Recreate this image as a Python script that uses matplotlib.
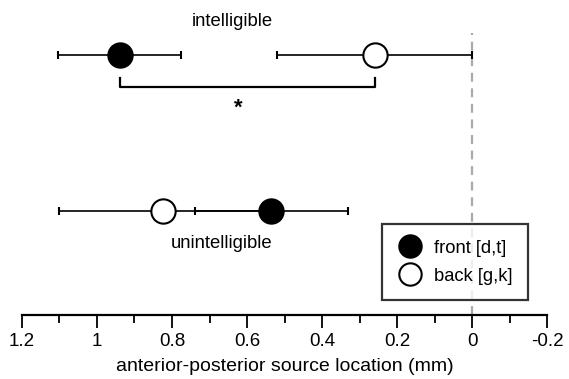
import matplotlib.pyplot as plt
from matplotlib.ticker import MultipleLocator

plt.rcParams['font.family'] = ['Liberation Sans', 'DejaVu Sans']

# conditions and source locations (mm), symmetric error bars
conditions = ["intelligible", "unintelligible"]
front_loc = [0.94, 0.535]
front_err = [0.165, 0.205]
back_loc = [0.26, 0.825]
back_err = [0.26, 0.275]

row_y = [55, 211]  # vertical positions of the two rows

fig = plt.figure(figsize=(5.69, 3.79), dpi=100)
ax = fig.add_axes([22 / 569, 64 / 379, 525 / 569, 315 / 379])

ax.axvline(0, ymin=0, ymax=(315 - 33) / 315, color='#aaaaaa', ls=(0, (4, 3)), lw=1.6, zorder=0)

ax.errorbar(back_loc, row_y, xerr=back_err, fmt='o', ms=17.5, mfc='white', mec='black',
            mew=1.5, ecolor='black', elinewidth=1.2, capsize=3, capthick=1.2,
            label='back [g,k]', zorder=3)
ax.errorbar(front_loc, row_y, xerr=front_err, fmt='o', ms=17.5, mfc='black', mec='black',
            mew=1.5, ecolor='black', elinewidth=1.2, capsize=3, capthick=1.2,
            label='front [d,t]', zorder=4)

# significance bracket
ax.plot([front_loc[0], front_loc[0], back_loc[0], back_loc[0]], [78, 87, 87, 78],
        color='black', lw=1.6)
ax.text(0.624, 108, '*', ha='center', va='center', fontsize=16, fontweight='bold')

ax.text(0.64, 22, conditions[0], ha='center', va='center', fontsize=13.3)
ax.text(0.669, 244, conditions[1], ha='center', va='center', fontsize=13.3)

ax.set_xlim(1.2, -0.2)
ax.set_ylim(315, 0)
ax.xaxis.set_minor_locator(MultipleLocator(0.1))
ax.set_xticks([1.2, 1, 0.8, 0.6, 0.4, 0.2, 0, -0.2])
ax.set_xticklabels(['1.2', '1', '0.8', '0.6', '0.4', '0.2', '0', '-0.2'])
ax.tick_params(axis='x', which='major', length=9, width=1.3, labelsize=13.5, pad=4)
ax.tick_params(axis='x', which='minor', length=6, width=1.3)
ax.set_yticks([])
for s in ['left', 'right', 'top']:
    ax.spines[s].set_visible(False)
ax.spines['bottom'].set_linewidth(1.6)
ax.set_xlabel('anterior-posterior source location (mm)', fontsize=14, labelpad=6)

h, l = ax.get_legend_handles_labels()
leg = ax.legend(h[::-1], l[::-1], loc='upper left', bbox_to_anchor=(382 / 569, 1 - 224 / 379),
                bbox_transform=fig.transFigure, borderaxespad=0, fancybox=False,
                edgecolor='black', fontsize=13.2, markerscale=0.92, handletextpad=0.7,
                borderpad=0.85, labelspacing=0.6, handlelength=1.3)
leg.get_frame().set_linewidth(1.6)

fig.savefig('out.png', dpi=100)
